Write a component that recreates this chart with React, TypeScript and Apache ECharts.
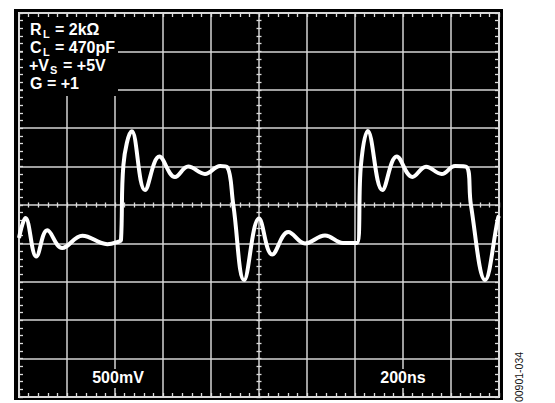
import React, { useEffect, useRef } from "react";
import * as echarts from "echarts";

// Trace: time (ns) and voltage (V)
const timeNs = [0, 27, 72, 118, 180, 264, 368, 417, 425, 435, 470, 525, 585, 650, 705, 775, 838, 867, 893, 938, 1000, 1055, 1122, 1192, 1275, 1350, 1408, 1425, 1453, 1514, 1574, 1639, 1696, 1761, 1817, 1865, 1883, 1942, 1996, 2000];
const voltsV = [-0.43, -0.17, -0.67, -0.33, -0.56, -0.4, -0.51, -0.475, -0.456, 0.52, 0.96, 0.195, 0.63, 0.365, 0.5, 0.404, 0.508, 0.495, 0, -0.977, -0.176, -0.645, -0.352, -0.5, -0.397, -0.495, -0.495, 0.527, 0.964, 0.195, 0.632, 0.365, 0.499, 0.404, 0.508, 0.495, 0, -0.977, -0.17, -0.14];

// Condition labels (main text, subscript, rest)
const condMain = ["R", "C", "+V", "G = +1"];
const condSub = ["L", "L", "S", ""];
const condRest = ["= 2k\u03A9", "= 470pF", "= +5V", ""];
const scaleLabels = ["500mV", "200ns"];
const figureId = "00901-034";

const FONT = '"Liberation Sans", Arial, Helvetica, sans-serif';

const txt = (text: string, x: number, y: number, size: number, bold: boolean, align: string, fill = "#fff", extra: any = {}) => ({
  type: "text",
  x,
  y,
  z: 60,
  ...extra,
  style: {
    text,
    fill,
    fontSize: size,
    fontWeight: bold ? "bold" : "normal",
    fontFamily: FONT,
    align,
    verticalAlign: "middle",
    textAlign: align,
    textVerticalAlign: "middle",
  },
});

export default function App() {
  const ref = useRef<HTMLDivElement>(null);
  useEffect(() => {
    if (!ref.current) return;
    const chart = echarts.init(ref.current, undefined, { renderer: "svg" });
    const gridColor = "#d4d4d4";
    const tickLine = { color: "#dcdcdc", width: 1.3 };
    const xAx = (position: string, offset: number, len: number, split: boolean) => ({
      type: "value",
      min: 0,
      max: 2000,
      interval: 200,
      position,
      offset,
      axisLine: { show: false, onZero: false },
      axisLabel: { show: false },
      axisTick: { show: true, inside: true, length: len, lineStyle: tickLine },
      minorTick: { show: true, splitNumber: 5, length: len, lineStyle: tickLine },
      splitLine: { show: split, lineStyle: { color: gridColor, width: 1.5 } },
    });
    const yAx = (position: string, offset: number, len: number, split: boolean) => ({
      type: "value",
      min: -2.5,
      max: 2.5,
      interval: 0.5,
      position,
      offset,
      axisLine: { show: false, onZero: false },
      axisLabel: { show: false },
      axisTick: { show: true, inside: true, length: len, lineStyle: tickLine },
      minorTick: { show: true, splitNumber: 5, length: len, lineStyle: tickLine },
      splitLine: { show: split, lineStyle: { color: gridColor, width: 1.5 } },
    });

    const rowsCenter = [29.4, 47.7, 65.4, 83.4];
    const subX = [43, 43, 50, 0];
    const restX = [55, 55, 63, 0];
    const texts: any[] = [];
    condMain.forEach((m, i) => {
      const x0 = i === 2 ? 29 : 30;
      texts.push(txt(m, x0, rowsCenter[i], 16, true, "left"));
      if (condSub[i]) texts.push(txt(condSub[i], subX[i], rowsCenter[i] + 4.6, 11, true, "left"));
      if (condRest[i]) texts.push(txt(condRest[i], restX[i], rowsCenter[i], 16, true, "left"));
    });
    const scaleX = [118, 403];
    scaleLabels.forEach((s, i) => {
      texts.push({
        type: "rect", z: 55, silent: true,
        shape: { x: scaleX[i] - 27, y: 369, width: 54, height: 19 },
        style: { fill: "#000" },
      });
      texts.push(txt(s, scaleX[i], 377.4, 16, true, "center"));
    });

    chart.setOption({
      animation: false,
      backgroundColor: "#fff",
      grid: {
        left: 19, top: 13, width: 480, height: 384,
        show: true, borderColor: "#e6e6e6", borderWidth: 2, backgroundColor: "transparent",
        outerBoundsMode: "none",
      },
      xAxis: [
        xAx("bottom", 0, 4, true),
        xAx("top", 0, 4, false),
        xAx("bottom", -192, 2.5, false),
        xAx("top", -192, 2.5, false),
      ],
      yAxis: [
        yAx("left", 0, 4, true),
        yAx("right", 0, 4, false),
        yAx("left", -240, 2.5, false),
        yAx("right", -240, 2.5, false),
      ],
      graphic: [
        { type: "rect", z: -10, silent: true, shape: { x: 14, y: 9, width: 489, height: 391 }, style: { fill: "#000" } },
        { type: "rect", z: 55, silent: true, shape: { x: 23, y: 17, width: 95, height: 79 }, style: { fill: "#000" } },
        ...texts,
        txt(figureId, 519, 377, 10.5, false, "center", "#111", { rotation: Math.PI / 2 }),
      ],
      series: [
        {
          type: "line",
          xAxisIndex: 0,
          yAxisIndex: 0,
          data: timeNs.map((t, i) => [t, voltsV[i]]),
          smooth: 0.4,
          showSymbol: false,
          lineStyle: { color: "#fff", width: 4 },
          z: 10,
        },
      ],
    });
    return () => chart.dispose();
  }, []);
  return <div ref={ref} style={{ position: "fixed", left: 0, top: 0, width: 555, height: 403, background: "#fff" }} />;
}
